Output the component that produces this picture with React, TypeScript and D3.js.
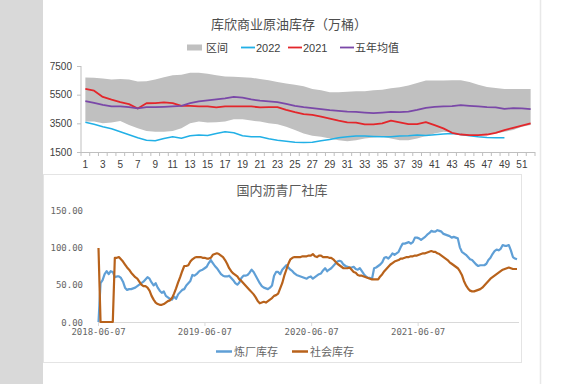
import React, { useEffect, useRef } from 'react';
import * as d3 from 'd3';

// ---- 库欣商业原油库存（万桶），按周 ----
const weeks = [1, 2, 3, 4, 5, 6, 7, 8, 9, 10, 11, 12, 13, 14, 15, 16, 17, 18, 19, 20, 21, 22, 23, 24, 25, 26,
  27, 28, 29, 30, 31, 32, 33, 34, 35, 36, 37, 38, 39, 40, 41, 42, 43, 44, 45, 46, 47, 48, 49, 50, 51, 52];
const rangeHigh = [6700, 6680, 6630, 6560, 6600, 6560, 6420, 6440, 6560, 6720, 6860, 6890, 7030, 7030, 6960, 6860,
  6770, 6750, 6720, 6680, 6600, 6510, 6390, 6280, 6200, 6090, 5900, 5800, 5660, 5660, 5710, 5740, 5740, 5800, 5850,
  5950, 6020, 6140, 6320, 6490, 6490, 6490, 6510, 6510, 6390, 6200, 6040, 5970, 5900, 5900, 5900, 5900];
const rangeLow = [3620, 3620, 3500, 3550, 3660, 3380, 3150, 2960, 2910, 2910, 2960, 3150, 3500, 3620, 3550, 3570,
  3620, 3780, 3780, 3690, 3620, 3500, 3430, 3260, 3030, 2790, 2630, 2560, 2440, 2320, 2250, 2320, 2440, 2510, 2560,
  2440, 2320, 2320, 2440, 2610, 2790, 2910, 2860, 2750, 2680, 2680, 2720, 2790, 2910, 3030, 3260, 3380];
const inv2022 = [3570, 3430, 3260, 3120, 2910, 2700, 2490, 2320, 2280, 2440, 2560, 2460, 2630, 2680, 2650, 2790,
  2910, 2840, 2630, 2560, 2560, 2420, 2320, 2250, 2180, 2160, 2180, 2280, 2370, 2490, 2560, 2610, 2610, 2580, 2560,
  2560, 2610, 2630, 2680, 2650, 2700, 2750, 2790, 2720, 2630, 2560, 2510, 2490, 2490];
const inv2021 = [5900, 5780, 5340, 5150, 4980, 4840, 4530, 4900, 4910, 4960, 4910, 4720, 4720, 4680, 4680, 4610,
  4680, 4680, 4680, 4680, 4610, 4630, 4630, 4440, 4280, 4140, 4090, 3970, 3830, 3690, 3570, 3550, 3430, 3430, 3500,
  3690, 3570, 3450, 3450, 3590, 3380, 3150, 2840, 2720, 2680, 2680, 2720, 2840, 3030, 3190, 3340, 3500];
const avg5y = [5050, 4930, 4790, 4680, 4680, 4630, 4540, 4630, 4630, 4650, 4680, 4720, 4910, 5030, 5100, 5170,
  5240, 5340, 5290, 5170, 5080, 5030, 4980, 4860, 4720, 4630, 4560, 4490, 4420, 4370, 4320, 4300, 4250, 4210, 4250,
  4300, 4280, 4320, 4440, 4580, 4650, 4680, 4700, 4770, 4720, 4680, 4630, 4610, 4510, 4560, 4540, 4490];
const topTicks = [1500, 3500, 5500, 7500];

// ---- 国内沥青厂社库，按周，从 2018-06-07 起 ----
const startDate = '2018-06-07';
const refinery = [
  0, 52, 56, 64, 68, 64, 68, 67, 60, 61,
  61, 59, 54, 46, 43, 44, 44, 45, 46, 48,
  50, 52, 54, 57, 60, 58, 53, 49, 52, 46,
  42, 39, 41, 35, 33, 31, 30, 34, 31, 37,
  40, 43, 44, 49, 52, 55, 63, 62, 64, 67,
  69, 70, 72, 74, 79, 83, 79, 75, 72, 68,
  64, 62, 61, 61, 62, 59, 56, 52, 50, 53,
  59, 62, 62, 63, 66, 70, 67, 62, 57, 52,
  48, 46, 45, 44, 46, 49, 62, 67, 67, 64,
  70, 73, 76, 73, 70, 68, 65, 63, 62, 61,
  60, 59, 58, 60, 61, 58, 60, 62, 64, 65,
  69, 72, 68, 70, 72, 75, 78, 81, 82, 81,
  77, 75, 74, 73, 73, 74, 71, 70, 72, 68,
  64, 61, 59, 59, 58, 72, 73, 75, 77, 80,
  86, 87, 85, 88, 92, 90, 92, 94, 100, 105,
  105, 106, 107, 105, 107, 113, 113, 112, 110, 112,
  114, 117, 119, 122, 121, 121, 123, 122, 121, 118,
  117, 116, 115, 113, 114, 113, 112, 100, 94, 92,
  90, 87, 84, 83, 80, 77, 75, 76, 76, 76,
  78, 83, 86, 91, 95, 97, 96, 98, 103, 102,
  102, 103, 96, 87, 85, 84];
const social = [
  99, 0, 0, 0, 0, 0, 0, 0, 86, 86,
  87, 84, 81, 77, 73, 70, 66, 63, 60, 58,
  54, 50, 48, 48, 46, 42, 35, 30, 26, 24,
  23, 23, 24, 26, 28, 29, 32, 38, 45, 53,
  60, 68, 75, 75, 76, 81, 84, 86, 87, 87,
  87, 86, 86, 85, 85, 86, 90, 91, 92, 91,
  89, 87, 83, 78, 72, 68, 65, 63, 61, 57,
  55, 52, 49, 46, 43, 40, 37, 33, 28, 25,
  26, 27, 26, 28, 30, 32, 35, 36, 38, 45,
  52, 62, 70, 78, 84, 86, 87, 87, 87, 87,
  88, 88, 88, 89, 89, 91, 88, 87, 89, 89,
  87, 87, 87, 86, 86, 84, 81, 78, 76, 74,
  72, 72, 72, 73, 70, 67, 66, 63, 62, 62,
  61, 60, 59, 58, 57, 57, 57, 57, 61, 64,
  68, 71, 74, 77, 79, 81, 82, 83, 85, 85,
  86, 87, 87, 88, 88, 89, 89, 90, 91, 92,
  92, 93, 94, 95, 94, 94, 92, 91, 89, 87,
  85, 83, 80, 78, 76, 74, 72, 68, 63, 55,
  49, 45, 42, 41, 41, 42, 43, 44, 46, 49,
  52, 55, 58, 60, 62, 64, 66, 68, 70, 71,
  72, 73, 72, 71, 71, 71];
const bottomTicks = [0, 50, 100, 150];
const dateLabels = ['2018-06-07', '2019-06-07', '2020-06-07', '2021-06-07'];

const CJK = '"Noto Sans CJK SC", sans-serif';
const SANS = '"Liberation Sans", Arial, sans-serif';
const MONO = '"DejaVu Sans Mono", monospace';

const App = () => {
  const svgRef = useRef<SVGSVGElement>(null);

  useEffect(() => {
    const svg = d3.select(svgRef.current);
    svg.selectAll('*').remove();

    // page background
    svg.append('rect').attr('width', 564).attr('height', 384).style('fill', '#fff');
    svg.append('rect').attr('width', 43).attr('height', 384).style('fill', '#d9d9d9');
    svg.append('line')
      .attr('x1', 540.5).attr('x2', 540.5).attr('y1', 0).attr('y2', 384)
      .style('stroke', '#e8e8e8').style('stroke-width', 1.5);

    // ===== 库欣 chart =====
    const top = svg.append('g');
    const x = d3.scalePoint<number>().domain(weeks).range([81, 535]).padding(0.5);
    const y = d3.scaleLinear().domain([1500, 7500]).range([152, 66]);

    top.append('text')
      .attr('x', 289).attr('y', 29)
      .attr('text-anchor', 'middle')
      .style('font-family', CJK).style('font-size', '13px').style('fill', '#4d4d4d')
      .text('库欣商业原油库存（万桶）');

    // band
    const band = d3.area<number>()
      .x((d, i) => x(weeks[i])!)
      .y0((d, i) => y(rangeLow[i]))
      .y1(d => y(d));
    top.append('path').datum(rangeHigh).attr('d', band).style('fill', '#c0c0c0');

    // axes
    top.append('line').attr('x1', 81).attr('x2', 81).attr('y1', 66).attr('y2', 152).style('stroke', '#bfbfbf');
    top.append('line').attr('x1', 81).attr('x2', 535).attr('y1', 152.5).attr('y2', 152.5).style('stroke', '#bfbfbf');
    top.selectAll('.ytick')
      .data(topTicks).enter().append('line')
      .attr('x1', 77).attr('x2', 81)
      .attr('y1', d => y(d) + 0.5).attr('y2', d => y(d) + 0.5)
      .style('stroke', '#bfbfbf');
    top.selectAll('.ylab')
      .data(topTicks).enter().append('text')
      .attr('x', 72).attr('y', d => y(d) + 3.5)
      .attr('text-anchor', 'end')
      .style('font-family', SANS).style('font-size', '10px').style('fill', '#404040')
      .text(d => d);
    const step = x.step();
    top.selectAll('.xtick')
      .data(d3.range(weeks.length + 1)).enter().append('line')
      .attr('x1', i => 81 + i * step).attr('x2', i => 81 + i * step)
      .attr('y1', 152).attr('y2', 156)
      .style('stroke', '#bfbfbf');
    top.selectAll('.xlab')
      .data(weeks.filter(w => w % 2 === 1)).enter().append('text')
      .attr('x', d => x(d)!).attr('y', 167.5)
      .attr('text-anchor', 'middle')
      .style('font-family', SANS).style('font-size', '10px').style('fill', '#404040')
      .text(d => d);

    const line = d3.line<number>().x((d, i) => x(weeks[i])!).y(d => y(d));
    const series = [
      { values: inv2022, color: '#22b0e6', width: 1.5 },
      { values: inv2021, color: '#e3262b', width: 1.8 },
      { values: avg5y, color: '#7a48a8', width: 1.8 },
    ];
    series.forEach(s => {
      top.append('path').datum(s.values).attr('d', line)
        .style('fill', 'none').style('stroke', s.color)
        .style('stroke-width', s.width).style('stroke-linejoin', 'round');
    });

    // legend
    const lg = top.append('g').style('font-size', '11px').style('fill', '#404040');
    lg.append('rect').attr('x', 187).attr('y', 44.5).attr('width', 15).attr('height', 6).style('fill', '#c0c0c0');
    lg.append('text').attr('x', 206).attr('y', 51.5).style('font-family', CJK).text('区间');
    const lgLines = [
      { x: 241, color: '#22b0e6', label: '2022', font: SANS },
      { x: 288, color: '#e3262b', label: '2021', font: SANS },
      { x: 340, color: '#7a48a8', label: '五年均值', font: CJK },
    ];
    lgLines.forEach(l => {
      lg.append('line').attr('x1', l.x).attr('x2', l.x + 14).attr('y1', 47.5).attr('y2', 47.5)
        .style('stroke', l.color).style('stroke-width', 1.8);
      lg.append('text').attr('x', l.x + 15).attr('y', 51.5).style('font-family', l.font).text(l.label);
    });

    // ===== 沥青 chart =====
    const bot = svg.append('g');
    bot.append('rect')
      .attr('x', 43.5).attr('y', 174.5).attr('width', 478).attr('height', 188)
      .style('fill', '#fff').style('stroke', '#e4e4e4');

    bot.append('text')
      .attr('x', 282).attr('y', 195)
      .attr('text-anchor', 'middle')
      .style('font-family', CJK).style('font-size', '13px').style('fill', '#595959')
      .text('国内沥青厂社库');

    const parse = d3.timeParse('%Y-%m-%d');
    const t0 = parse(startDate)!;
    const dates = refinery.map((_, i) => d3.timeDay.offset(t0, i * 7));
    const xb = d3.scaleTime().domain([t0, dates[dates.length - 1]]).range([98.5, 517]);
    const yb = d3.scaleLinear().domain([0, 150]).range([322, 210]);

    bot.append('line').attr('x1', 98).attr('x2', 519).attr('y1', 322.5).attr('y2', 322.5).style('stroke', '#d9d9d9');
    bot.selectAll('.blab')
      .data(bottomTicks).enter().append('text')
      .attr('x', 83).attr('y', d => yb(d) + 3.5)
      .attr('text-anchor', 'end')
      .style('font-family', MONO).style('font-size', '9px').style('fill', '#666')
      .text(d => d3.format('.2f')(d));
    const tickDates = dateLabels.map(d => parse(d)!);
    bot.selectAll('.btick')
      .data(tickDates).enter().append('line')
      .attr('x1', d => xb(d)).attr('x2', d => xb(d))
      .attr('y1', 322).attr('y2', 326)
      .style('stroke', '#d9d9d9');
    bot.selectAll('.dlab')
      .data(tickDates).enter().append('text')
      .attr('x', d => xb(d)).attr('y', 335)
      .attr('text-anchor', 'middle')
      .style('font-family', MONO).style('font-size', '9px').style('fill', '#666')
      .text(d => d3.timeFormat('%Y-%m-%d')(d));

    const lineB = d3.line<number>().x((d, i) => xb(dates[i])).y(d => yb(d));
    const seriesB = [
      { values: refinery, color: '#5f9fd6', label: '炼厂库存', lx: 216 },
      { values: social, color: '#b8621b', label: '社会库存', lx: 292 },
    ];
    seriesB.forEach(s => {
      bot.append('path').datum(s.values).attr('d', lineB)
        .style('fill', 'none').style('stroke', s.color)
        .style('stroke-width', 2.2).style('stroke-linejoin', 'round');
      bot.append('line').attr('x1', s.lx).attr('x2', s.lx + 16).attr('y1', 351.5).attr('y2', 351.5)
        .style('stroke', s.color).style('stroke-width', 2.5);
      bot.append('text').attr('x', s.lx + 18).attr('y', 355.5)
        .style('font-family', CJK).style('font-size', '11px').style('fill', '#666')
        .text(s.label);
    });
  }, []);

  return (
    <svg ref={svgRef} width={564} height={384}
      style={{ position: 'absolute', left: 0, top: 0, display: 'block' }} />
  );
};

export default App;
